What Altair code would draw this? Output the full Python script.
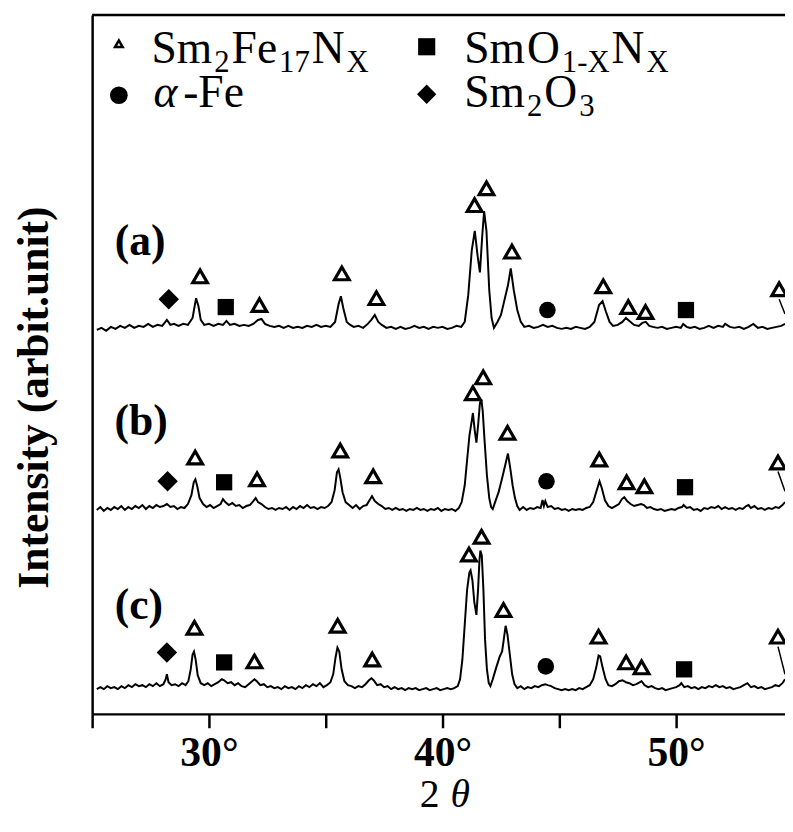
import altair as alt
import pandas as pd

# ---------------- data ----------------
# (2theta in degrees, intensity above the trace's own baseline, arbitrary units)
TRACE_A = [(25.2,0),(25.4,2),(25.6,-1),(25.8,3),(26.0,1),(26.2,4),(26.4,2),(26.6,5),(26.8,2),(27.0,4),
           (27.2,3),(27.4,6),(27.6,3),(27.8,5),(28.0,4),(28.2,10),(28.35,5),(28.5,6),(28.7,4),(28.9,6),
           (29.1,5),(29.3,12),(29.45,32),(29.55,24),(29.65,10),(29.8,5),(30.0,6),(30.2,4),(30.4,6),(30.6,5),
           (30.75,9),(30.9,5),(31.1,6),(31.3,4),(31.5,5),(31.7,4),(31.9,6),(32.1,10),(32.25,11),(32.4,6),
           (32.6,4),(32.8,3),(33.0,4),(33.2,2),(33.4,4),(33.6,2),(33.8,3),(34.0,2),(34.2,4),(34.4,3),
           (34.6,5),(34.8,3),(35.0,4),(35.2,3),(35.4,8),(35.55,26),(35.65,34),(35.75,22),(35.9,8),(36.05,5),
           (36.2,3),(36.4,4),(36.6,2),(36.8,6),(36.95,10),(37.1,15),(37.25,8),(37.4,5),(37.6,2),(37.8,3),
           (38.0,1),(38.2,3),(38.4,1),(38.6,2),(38.8,4),(39.0,2),(39.2,3),(39.4,1),(39.6,3),(39.8,2),
           (40.0,3),(40.2,1),(40.4,2),(40.6,4),(40.8,3),(40.95,8),(41.1,35),(41.25,80),(41.38,100),(41.5,75),
           (41.6,58),(41.7,95),(41.78,120),(41.88,100),(42.0,40),(42.1,12),(42.2,2),(42.35,8),(42.5,15),(42.65,30),
           (42.8,45),(42.92,62),(43.05,40),(43.2,20),(43.35,8),(43.5,3),(43.7,4),(43.9,2),(44.1,3),(44.3,5),
           (44.5,3),(44.7,4),(44.9,2),(45.1,1),(45.3,2),(45.5,1),(45.7,3),(45.9,2),(46.1,1),(46.3,3),
           (46.5,8),(46.7,25),(46.85,29),(47.0,18),(47.15,8),(47.3,4),(47.5,5),(47.7,8),(47.85,12),(48.0,9),
           (48.2,5),(48.4,4),(48.55,7),(48.7,8),(48.85,4),(49.0,3),(49.2,2),(49.4,3),(49.6,1),(49.8,2),
           (50.0,3),(50.2,2),(50.3,6),(50.45,3),(50.6,2),(50.8,3),(51.0,1),(51.2,2),(51.4,4),(51.6,2),
           (51.8,4),(52.0,3),(52.1,6),(52.3,3),(52.5,2),(52.7,3),(52.9,1),(53.1,3),(53.3,6),(53.5,2),
           (53.7,3),(53.9,1),(54.1,2),(54.3,3),(54.5,4),(54.66,6)]

TRACE_B = [(25.2,0),(25.35,3),(25.5,-1),(25.65,2),(25.8,0),(25.95,3),(26.1,1),(26.25,4),(26.4,0),(26.55,3),
           (26.7,1),(26.85,4),(27.0,2),(27.15,5),(27.3,1),(27.45,4),(27.6,2),(27.75,5),(27.9,3),(28.05,4),
           (28.2,6),(28.35,3),(28.5,4),(28.65,1),(28.8,3),(28.95,2),(29.1,6),(29.25,15),(29.35,28),(29.42,31),
           (29.5,24),(29.6,12),(29.75,6),(29.9,3),(30.05,5),(30.2,2),(30.35,4),(30.5,6),(30.6,11),(30.7,8),
           (30.85,5),(31.0,7),(31.15,4),(31.3,5),(31.45,2),(31.6,4),(31.75,5),(31.9,9),(32.0,12),(32.1,8),
           (32.25,6),(32.4,3),(32.55,1),(32.7,2),(32.85,0),(33.0,2),(33.15,1),(33.3,3),(33.45,0),(33.6,3),
           (33.75,1),(33.9,4),(34.05,2),(34.2,5),(34.35,2),(34.5,3),(34.65,1),(34.8,3),(34.95,2),(35.1,4),
           (35.25,8),(35.38,20),(35.48,38),(35.55,41),(35.62,33),(35.72,18),(35.85,8),(36.0,5),(36.15,2),(36.3,5),
           (36.45,1),(36.6,4),(36.75,5),(36.88,10),(36.98,14),(37.1,9),(37.25,6),(37.4,4),(37.55,1),(37.7,2),
           (37.85,0),(38.0,2),(38.15,0),(38.3,1),(38.45,-1),(38.6,1),(38.75,0),(38.9,2),(39.05,0),(39.2,1),
           (39.35,-1),(39.5,1),(39.65,0),(39.8,2),(39.95,-1),(40.1,1),(40.25,0),(40.4,1),(40.55,-1),(40.7,2),
           (40.82,8),(40.95,25),(41.05,50),(41.15,75),(41.25,90),(41.3,98),(41.38,80),(41.45,68),(41.52,85),(41.6,108),
           (41.66,112),(41.72,100),(41.8,70),(41.9,35),(42.0,12),(42.08,3),(42.15,1),(42.25,8),(42.4,18),(42.55,32),
           (42.68,45),(42.8,57),(42.9,42),(43.0,25),(43.1,12),(43.2,4),(43.3,0),(43.45,3),(43.6,0),(43.75,2),
           (43.9,1),(44.05,3),(44.2,2),(44.28,10),(44.34,4),(44.4,9),(44.5,3),(44.65,4),(44.8,1),(44.95,2),
           (45.1,0),(45.25,1),(45.4,-1),(45.55,1),(45.7,0),(45.85,1),(46.0,0),(46.15,2),(46.3,3),(46.45,8),
           (46.6,20),(46.72,29),(46.82,22),(46.95,10),(47.1,4),(47.25,2),(47.4,4),(47.55,6),(47.68,11),(47.78,13),
           (47.9,9),(48.05,6),(48.2,4),(48.35,5),(48.5,6),(48.62,5),(48.75,2),(48.9,3),(49.05,1),(49.2,0),
           (49.35,1),(49.5,-1),(49.65,0),(49.8,1),(49.95,0),(50.1,2),(50.25,3),(50.32,5),(50.45,2),(50.6,3),
           (50.75,0),(50.9,1),(51.05,-1),(51.2,2),(51.35,1),(51.5,3),(51.65,2),(51.8,4),(51.95,1),(52.1,3),
           (52.25,1),(52.4,2),(52.55,0),(52.7,2),(52.85,1),(53.0,4),(53.1,5),(53.2,2),(53.35,4),(53.5,1),
           (53.65,2),(53.8,0),(53.95,2),(54.1,1),(54.25,3),(54.4,2),(54.55,5),(54.66,8)]

TRACE_C = [(25.2,0),(25.35,2),(25.5,0),(25.65,3),(25.8,1),(25.95,2),(26.1,0),(26.25,3),(26.4,1),(26.55,4),
           (26.7,2),(26.85,5),(27.0,3),(27.15,4),(27.3,2),(27.45,5),(27.6,3),(27.75,6),(27.9,3),(28.05,5),
           (28.15,10),(28.2,15),(28.27,7),(28.4,4),(28.55,5),(28.7,3),(28.85,6),(29.0,4),(29.12,8),(29.22,20),
           (29.3,35),(29.36,38),(29.43,30),(29.52,14),(29.65,6),(29.8,4),(29.95,6),(30.1,3),(30.25,5),(30.4,7),
           (30.55,10),(30.65,9),(30.8,6),(30.95,7),(31.1,4),(31.25,6),(31.4,3),(31.55,2),(31.7,5),(31.85,8),
           (31.95,10),(32.05,8),(32.2,4),(32.35,5),(32.5,2),(32.65,3),(32.8,1),(32.95,2),(33.1,0),(33.25,3),
           (33.4,1),(33.55,2),(33.7,0),(33.85,3),(34.0,1),(34.15,4),(34.3,2),(34.45,5),(34.6,3),(34.75,6),
           (34.9,2),(35.05,4),(35.2,7),(35.32,15),(35.42,32),(35.5,42),(35.58,38),(35.68,20),(35.8,8),(35.95,4),
           (36.1,3),(36.25,1),(36.4,3),(36.55,2),(36.7,5),(36.85,9),(36.96,11),(37.05,9),(37.2,4),(37.35,5),
           (37.5,2),(37.65,3),(37.8,0),(37.95,2),(38.1,0),(38.25,1),(38.4,-1),(38.55,1),(38.7,0),(38.85,1),
           (39.0,-1),(39.15,0),(39.3,1),(39.45,-1),(39.6,0),(39.75,1),(39.9,-1),(40.05,0),(40.2,1),(40.35,0),
           (40.5,1),(40.65,3),(40.75,10),(40.85,30),(40.95,65),(41.05,100),(41.15,118),(41.2,120),(41.28,110),(41.36,88),
           (41.45,75),(41.52,100),(41.58,130),(41.62,140),(41.68,135),(41.75,100),(41.82,50),(41.9,20),(41.98,6),(42.05,3),
           (42.15,10),(42.3,22),(42.45,33),(42.55,38),(42.62,50),(42.7,64),(42.78,55),(42.88,35),(42.98,15),(43.08,5),
           (43.2,1),(43.35,3),(43.5,0),(43.65,2),(43.8,1),(43.95,3),(44.1,2),(44.25,4),(44.4,5),(44.5,4),
           (44.65,3),(44.8,1),(44.95,0),(45.1,-1),(45.25,0),(45.4,-1),(45.55,0),(45.7,-1),(45.85,1),(46.0,0),
           (46.15,2),(46.3,4),(46.45,10),(46.58,22),(46.68,34),(46.75,33),(46.85,22),(46.98,10),(47.1,4),(47.25,3),
           (47.4,5),(47.55,8),(47.7,9),(47.85,7),(48.0,6),(48.15,4),(48.3,5),(48.45,7),(48.52,8),(48.65,4),
           (48.8,2),(48.95,3),(49.1,1),(49.25,0),(49.4,1),(49.55,-1),(49.7,0),(49.85,1),(50.0,2),(50.15,4),
           (50.22,6),(50.35,2),(50.5,3),(50.65,1),(50.8,2),(50.95,0),(51.1,2),(51.25,1),(51.4,3),(51.55,2),
           (51.7,4),(51.85,2),(52.0,3),(52.15,1),(52.3,2),(52.45,0),(52.6,1),(52.75,2),(52.9,4),(53.05,6),
           (53.2,2),(53.35,3),(53.5,1),(53.65,2),(53.8,0),(53.95,1),(54.1,2),(54.25,4),(54.4,3),(54.55,6),
           (54.66,10)]

TRACES = {"a": TRACE_A, "b": TRACE_B, "c": TRACE_C}
TRACE_OFFSET = {"a": 388, "b": 206, "c": 25}     # vertical stacking of the three patterns
TRACE_LABEL_POS = {"a": (27.05, 477), "b": (27.1, 295), "c": (27.0, 109)}

# phase markers: (phase, 2theta, height above the trace baseline)
MARKS_A = [("Sm2O3",28.28,31),("Sm2Fe17Nx",29.62,54),("SmO1-xNx",30.72,23),("Sm2Fe17Nx",32.16,25),
           ("Sm2Fe17Nx",35.69,57),("Sm2Fe17Nx",37.17,32),("Sm2Fe17Nx",41.37,126),("Sm2Fe17Nx",41.88,143),
           ("Sm2Fe17Nx",42.97,79),("a-Fe",44.49,20),("Sm2Fe17Nx",46.88,44),("Sm2Fe17Nx",47.95,23),
           ("Sm2Fe17Nx",48.69,18),("SmO1-xNx",50.42,20),("Sm2Fe17Nx",54.41,41)]
MARKS_B = [("Sm2O3",28.23,29),("Sm2Fe17Nx",29.41,53),("SmO1-xNx",30.65,28),("Sm2Fe17Nx",32.06,31),
           ("Sm2Fe17Nx",35.62,60),("Sm2Fe17Nx",37.03,34),("Sm2Fe17Nx",41.30,118),("Sm2Fe17Nx",41.74,134),
           ("Sm2Fe17Nx",42.78,78),("a-Fe",44.45,29),("Sm2Fe17Nx",46.71,51),("Sm2Fe17Nx",47.88,28),
           ("Sm2Fe17Nx",48.64,24),("SmO1-xNx",50.38,23),("Sm2Fe17Nx",54.36,48)]
MARKS_C = [("Sm2O3",28.2,37),("Sm2Fe17Nx",29.38,62),("SmO1-xNx",30.65,27),("Sm2Fe17Nx",31.95,28),
           ("Sm2Fe17Nx",35.51,64),("Sm2Fe17Nx",36.99,30),("Sm2Fe17Nx",41.13,136),("Sm2Fe17Nx",41.67,154),
           ("Sm2Fe17Nx",42.61,80),("a-Fe",44.42,23),("Sm2Fe17Nx",46.68,53),("Sm2Fe17Nx",47.86,27),
           ("Sm2Fe17Nx",48.52,22),("SmO1-xNx",50.34,20),("Sm2Fe17Nx",54.36,53)]
MARKS = {"a": MARKS_A, "b": MARKS_B, "c": MARKS_C}
# leader lines from the last triangle to a peak beyond the right edge
LEADERS = {"a": (54.41, 31, 54.66, 16), "b": (54.36, 39, 54.66, 19), "c": (54.36, 43, 54.66, 15)}

X_TICKS = [25, 30, 35, 40, 45, 50]

# ---------------- layout ----------------
X_MIN, X_MAX = 25.0, 54.66
Y_MAX = 706
W, H = 700, 706
PAD_L, PAD_T, PAD_B = 85, 3, 98
OX, OY = 8 + PAD_L, 8 + PAD_T
PXD = W / (X_MAX - X_MIN)
FONT = "Liberation Serif"


def gx(page_x):
    return X_MIN + (page_x - OX) / PXD


def gy(page_y):
    return Y_MAX - (page_y - OY)


SHAPE = {"SmO1-xNx": "square", "a-Fe": "circle", "Sm2O3": "diamond"}
SIZE = {"SmO1-xNx": 270, "a-Fe": 280, "Sm2O3": 430}

rows = []
for k, pts in TRACES.items():
    for t, v in pts:
        rows.append({"theta": t, "y": v + TRACE_OFFSET[k], "trace": k})
df_lines = pd.DataFrame(rows)

tri_rows, solid_rows = [], []
for k, ms in MARKS.items():
    for ph, t, v in ms:
        r = {"theta": t, "y": v + TRACE_OFFSET[k]}
        if ph == "Sm2Fe17Nx":
            tri_rows.append(r)
        else:
            r.update(shape=SHAPE[ph], sz=SIZE[ph])
            solid_rows.append(r)
df_tri = pd.DataFrame(tri_rows)
df_solid = pd.DataFrame(solid_rows)

df_lead = pd.DataFrame([{"theta": a, "y": b + TRACE_OFFSET[k], "theta2": c, "y2": d + TRACE_OFFSET[k]}
                        for k, (a, b, c, d) in LEADERS.items()])

df_plabel = pd.DataFrame([{"theta": p[0], "y": p[1], "txt": f"({k})"} for k, p in TRACE_LABEL_POS.items()])

# legend (built in page pixels, converted to data coordinates)
CW = {'S': .556, 'm': .778, 'F': .556, 'e': .444, 'N': .722, 'O': .722, 'X': .722, '-': .333,
      ' ': .25, '1': .5, '2': .5, '3': .5, '7': .5}
BIG, SUB, SUB_DROP, GAP = 46, 31, 9, 2
ROW1, ROW2 = 59, 104
COL1, COL2 = 153, 469


def seg_rows(segments, x0, base):
    out, x = [], x0
    for s, sub in segments:
        fs = SUB if sub else BIG
        out.append({"theta": gx(x), "y": gy(base + (SUB_DROP if sub else 0)), "txt": s, "fs": fs})
        x += sum(CW[ch] for ch in s) * fs + GAP
    return out


leg_text = []
leg_text += seg_rows([("Sm", 0), ("2", 1), ("Fe", 0), ("17", 1), ("N", 0), ("X", 1)], COL1, ROW1)
leg_text += seg_rows([("Sm", 0), ("O", 0), ("1-X", 1), ("N", 0), ("X", 1)], COL2, ROW1)
leg_text += seg_rows([("-Fe", 0)], COL1 + 32, ROW2)
leg_text += seg_rows([("Sm", 0), ("2", 1), ("O", 0), ("3", 1)], COL2, ROW2)
df_leg_text = pd.DataFrame(leg_text)
df_leg_big = df_leg_text[df_leg_text.fs == BIG]
df_leg_sub = df_leg_text[df_leg_text.fs == SUB]
df_leg_alpha = pd.DataFrame([{"theta": gx(COL1 + 2), "y": gy(ROW2), "txt": "α"}])

df_leg_tri = pd.DataFrame([{"theta": gx(120), "y": gy(ROW1 - 19)}])
df_leg_solid = pd.DataFrame([
    {"theta": gx(431), "y": gy(ROW1 - 16), "shape": "square", "sz": 300},
    {"theta": gx(120), "y": gy(ROW2 - 12), "shape": "circle", "sz": 320},
    {"theta": gx(431), "y": gy(ROW2 - 13), "shape": "diamond", "sz": 380},
])

df_t2 = pd.DataFrame([{"theta": gx(434), "y": gy(811), "txt": "2"}])
df_tth = pd.DataFrame([{"theta": gx(465), "y": gy(811), "txt": "θ"}])

# ---------------- chart ----------------
xs = alt.Scale(domain=[X_MIN, X_MAX], nice=False, zero=False)
ys = alt.Scale(domain=[0, Y_MAX], nice=False, zero=False)
xaxis = alt.Axis(values=X_TICKS, labelExpr="datum.value % 10 == 0 ? datum.value + '°' : ''",
                 tickSize=14, tickWidth=2.5, domainWidth=2.5, labelPadding=5, labelFont=FONT,
                 labelFontSize=42, labelFontWeight="bold", labelColor="black", title=None,
                 labelOverlap=False, labelFlush=False, grid=False, domainColor="black", tickColor="black")
yaxis = alt.Axis(title="Intensity (arbit.unit)", ticks=False, labels=False, grid=False,
                 domainWidth=2.5, domainColor="black", titleFont=FONT, titleFontSize=44,
                 titleFontWeight="bold", titleColor="black", titleAngle=270, titleX=-45, titleY=386,
                 titleAlign="center", titleBaseline="alphabetic")

X = alt.X("theta:Q", scale=xs, axis=xaxis)
Y = alt.Y("y:Q", scale=ys, axis=yaxis)

lines = alt.Chart(df_lines).mark_line(color="black", strokeWidth=2).encode(
    x=X, y=Y, detail="trace:N")

tri = alt.Chart(df_tri).mark_point(shape="triangle-up", filled=True, fill="white", stroke="black",
                                   strokeWidth=3.2, size=220, opacity=1).encode(x=X, y=Y)
solid = alt.Chart(df_solid).mark_point(filled=True, color="black", opacity=1).encode(
    x=X, y=Y, shape=alt.Shape("shape:N", scale=None), size=alt.Size("sz:Q", scale=None))
lead = alt.Chart(df_lead).mark_rule(color="black", strokeWidth=1.5).encode(
    x=X, y=Y, x2="theta2:Q", y2="y2:Q")
plabel = alt.Chart(df_plabel).mark_text(font=FONT, fontSize=44, fontWeight="bold", color="black",
                                        align="center", baseline="middle").encode(x=X, y=Y, text="txt:N")

leg_big = alt.Chart(df_leg_big).mark_text(font=FONT, fontSize=BIG, color="black", align="left",
                                          baseline="alphabetic").encode(x=X, y=Y, text="txt:N")
leg_sub = alt.Chart(df_leg_sub).mark_text(font=FONT, fontSize=SUB, color="black", align="left",
                                          baseline="alphabetic").encode(x=X, y=Y, text="txt:N")
leg_alpha = alt.Chart(df_leg_alpha).mark_text(font=FONT, fontSize=BIG, fontStyle="italic", color="black",
                                              align="left", baseline="alphabetic").encode(x=X, y=Y, text="txt:N")
leg_tri = alt.Chart(df_leg_tri).mark_point(shape="triangle-up", filled=True, fill="white", stroke="black",
                                           strokeWidth=2.5, size=60, opacity=1).encode(x=X, y=Y)
leg_solid = alt.Chart(df_leg_solid).mark_point(filled=True, color="black", opacity=1).encode(
    x=X, y=Y, shape=alt.Shape("shape:N", scale=None), size=alt.Size("sz:Q", scale=None))

t2 = alt.Chart(df_t2).mark_text(font=FONT, fontSize=40, color="black", align="center",
                                baseline="alphabetic").encode(x=X, y=Y, text="txt:N")
tth = alt.Chart(df_tth).mark_text(font=FONT, fontSize=40, fontStyle="italic", color="black", align="center",
                                  baseline="alphabetic").encode(x=X, y=Y, text="txt:N")

top = alt.Chart(pd.DataFrame({"d": [0]})).mark_rule(color="black", strokeWidth=2.5).encode(
    x=alt.value(0), x2=alt.value(W), y=alt.value(0))

chart = alt.layer(lines, lead, tri, solid, plabel, leg_big, leg_sub, leg_alpha, leg_tri, leg_solid,
                  t2, tth, top).properties(
    width=W, height=H,
    autosize=alt.AutoSizeParams(type="none"),
    padding={"left": PAD_L, "top": PAD_T, "right": 0, "bottom": PAD_B},
).configure_view(stroke=None).configure(background="white")

chart.save("out.html", embed_options={"renderer": "svg", "actions": False})
